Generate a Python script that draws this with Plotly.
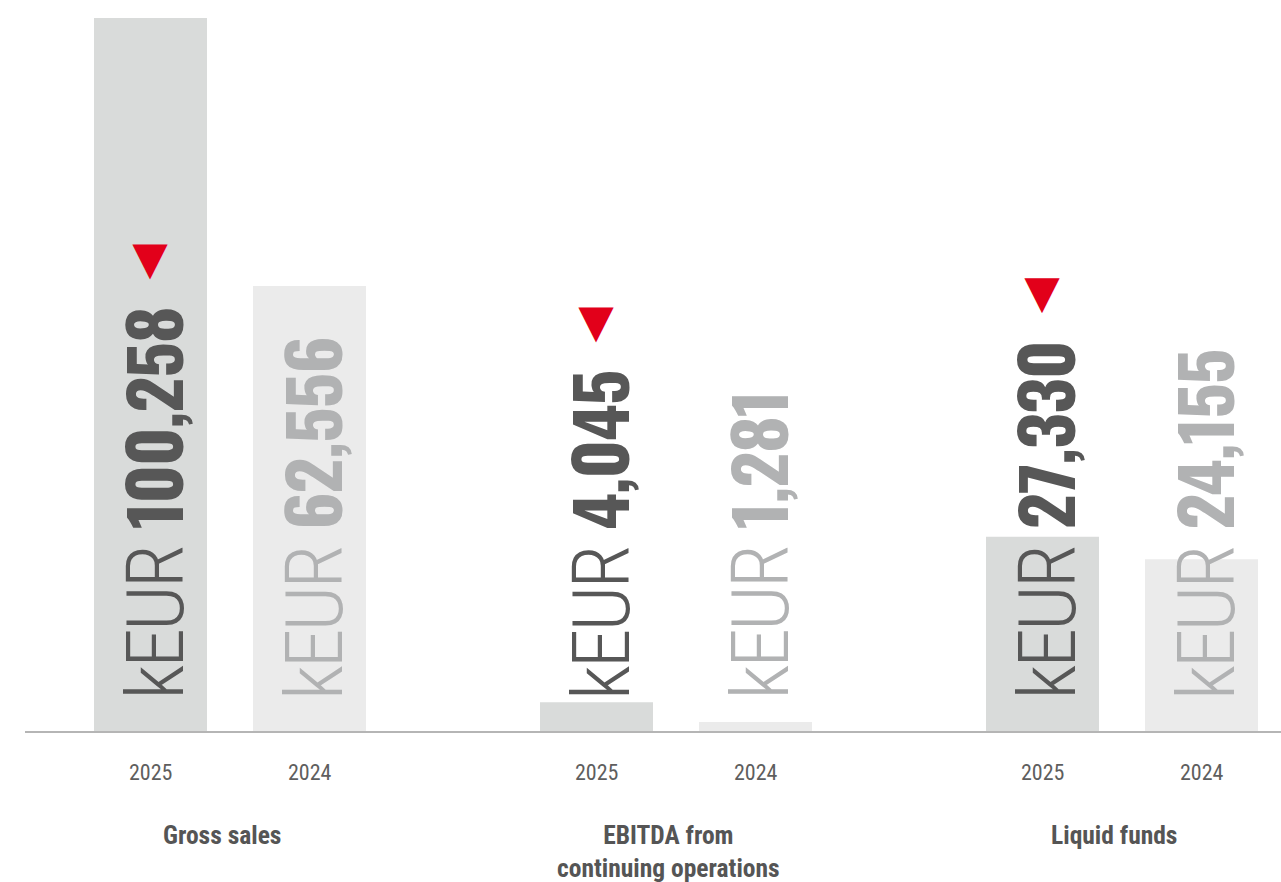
import plotly.graph_objects as go

# ---- data ----
groups = ["Gross sales", "EBITDA from<br>continuing operations", "Liquid funds"]
group_keys = ["gs", "ebitda", "lf"]
years = ["2025", "2024"]
values_2025 = [100258, 4045, 27330]
values_2024 = [62556, 1281, 24155]
labels_2025 = ["100,258", "4,045", "27,330"]
labels_2024 = ["62,556", "1,281", "24,155"]

# ---- styling ----
W, H = 1281, 882
ML, MR, MT, MB = 25, 0, 0, 151
BAR_2025 = "#d9dbda"
BAR_2024 = "#ebebeb"
TXT_2025 = "#575757"
TXT_2024 = "#b1b2b3"
RED = "#e2001a"
FONT = "Roboto Condensed"
NUM_FONT = "Oswald"
VAL_SIZE = 80
NUM_SIZE = 70
UNIT_PX = 446.0          # distance between group centres
SLOT_PX = 159.0          # distance between the two bars of a group
BAR_PX = 113.0
FIRST_CENTER_PX = 230.0

plot_w = W - ML - MR
plot_h = H - MT - MB
r0 = -(FIRST_CENTER_PX - ML) / UNIT_PX
r1 = r0 + plot_w / UNIT_PX
ymax = max(values_2025 + values_2024) * plot_h / 713.0

bargap = 1 - 2 * SLOT_PX / UNIT_PX
bargroupgap = 1 - BAR_PX / SLOT_PX

fig = go.Figure()
fig.add_trace(go.Bar(x=group_keys, y=values_2025, name=years[0],
                     marker=dict(color=BAR_2025, line=dict(width=0)), hoverinfo="skip"))
fig.add_trace(go.Bar(x=group_keys, y=values_2024, name=years[1],
                     marker=dict(color=BAR_2024, line=dict(width=0)), hoverinfo="skip"))


def value_text(label, with_marker):
    s = (f"<span style='letter-spacing:-3px'>kEUR</span> "
         f"<span style='font-family:{NUM_FONT};font-size:{NUM_SIZE}px;font-weight:700;letter-spacing:-1px'>"
         f"{label}</span>")
    if with_marker:
        s += (f"<span style='letter-spacing:10px'>\u00a0</span>"
              f"<span style='color:{RED};font-family:DejaVu Sans;font-size:46px;"
              f"font-weight:400;baseline-shift:21px'>\u25C0</span>")
    return s


half = SLOT_PX / 2
annotations = []
for i, k in enumerate(group_keys):
    # vertical value labels
    annotations.append(dict(
        x=k, xref="x", y=0, yref="y", xshift=-half, yshift=29,
        xanchor="center", yanchor="bottom", textangle=-90, showarrow=False,
        text=value_text(labels_2025[i], True),
        font=dict(family=FONT, size=VAL_SIZE, color=TXT_2025, weight=300)))
    annotations.append(dict(
        x=k, xref="x", y=0, yref="y", xshift=half, yshift=29,
        xanchor="center", yanchor="bottom", textangle=-90, showarrow=False,
        text=value_text(labels_2024[i], False),
        font=dict(family=FONT, size=VAL_SIZE, color=TXT_2024, weight=300)))
    # year labels
    for j, yr in enumerate(years):
        annotations.append(dict(
            x=k, xref="x", y=0, yref="paper", xshift=(-half if j == 0 else half), yshift=-41,
            xanchor="center", yanchor="middle", showarrow=False, text=yr,
            font=dict(family=FONT, size=22, color="#5e5e5e", weight=400)))
    # group labels
    annotations.append(dict(
        x=k, xref="x", y=0, yref="paper", xshift=-8, yshift=-88, borderpad=0,
        xanchor="center", yanchor="top", showarrow=False, text=groups[i],
        font=dict(family=FONT, size=25.5, color="#555555", weight=700)))

fig.update_layout(
    width=W, height=H,
    margin=dict(l=ML, r=MR, t=MT, b=MB),
    paper_bgcolor="white", plot_bgcolor="white",
    barmode="group", bargap=bargap, bargroupgap=bargroupgap,
    showlegend=False,
    annotations=annotations,
)
fig.update_xaxes(range=[r0, r1], showticklabels=False, ticks="", showgrid=False,
                 showline=True, linecolor="#b5b5b5", linewidth=2, zeroline=False, fixedrange=True)
fig.update_yaxes(range=[0, ymax], visible=False, showgrid=False, zeroline=False, fixedrange=True)

fig.write_html("out.html", config={"displayModeBar": False})
